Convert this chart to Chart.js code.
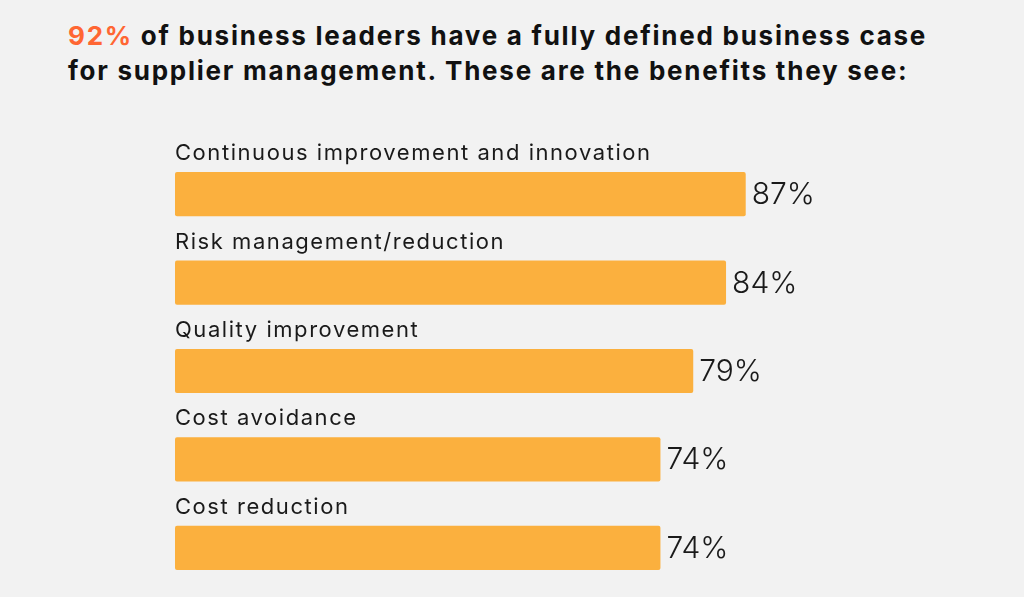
<!DOCTYPE html>
<html lang="en">
<head>
    <meta charset="UTF-8">
    <title>Supplier management benefits</title>
    <style>
        html, body {
            margin: 0;
            padding: 0;
            background: #f2f2f2;
            width: 1024px;
            height: 597px;
            overflow: hidden;
        }
        .title {
            position: absolute;
            left: 68px;
            top: 18px;
            font-family: 'Inter', sans-serif;
            font-weight: 700;
            font-size: 26px;
            line-height: 35px;
            letter-spacing: 1.75px;
            color: #111;
            white-space: nowrap;
        }
        .title .hl { color: #ff6633; }
        .wrap {
            position: absolute;
            left: 0;
            top: 0;
            width: 1024px;
            height: 597px;
        }
    </style>
</head>
<body>
<div class="title"><span class="hl">92%</span> of business leaders have a fully defined business case<br>for supplier management. These are the benefits they see:</div>
<div class="wrap"><canvas id="chart" width="1024" height="597"></canvas></div>

<script src="https://cdn.jsdelivr.net/npm/chart.js@4.4.0/dist/chart.umd.min.js"></script>
<script>
  const categories = [
    'Continuous improvement and innovation',
    'Risk management/reduction',
    'Quality improvement',
    'Cost avoidance',
    'Cost reduction'
  ];
  const values = [87, 84, 79, 74, 74];

  // category name above each bar, percentage to its right
  const barLabels = {
    id: 'barLabels',
    afterDatasetsDraw(chart) {
      const ctx = chart.ctx;
      const meta = chart.getDatasetMeta(0);
      ctx.save();
      meta.data.forEach((bar, i) => {
        const top = bar.y - bar.height / 2;
        ctx.fillStyle = '#1a1a1a';
        ctx.textBaseline = 'alphabetic';
        ctx.font = '400 22px Inter, sans-serif';
        ctx.letterSpacing = '1.55px';
        ctx.fillText(categories[i], bar.base, top - 12);
        ctx.textBaseline = 'middle';
        ctx.font = '300 30px Inter, sans-serif';
        ctx.letterSpacing = '0px';
        ctx.fillText(values[i] + '%', bar.x + 6, bar.y + 1);
      });
      ctx.restore();
    }
  };

  new Chart(document.getElementById('chart'), {
    type: 'bar',
    data: {
      labels: categories,
      datasets: [{
        data: values,
        backgroundColor: '#fbb03e',
        borderRadius: 2,
        borderSkipped: false,
        categoryPercentage: 1,
        barPercentage: 0.5
      }]
    },
    options: {
      indexAxis: 'y',
      responsive: false,
      animation: false,
      layout: { padding: { left: 175, right: 193, top: 150, bottom: 5 } },
      plugins: { legend: { display: false }, tooltip: { enabled: false } },
      scales: {
        x: { display: false, min: 0, max: 100 },
        y: { display: false }
      }
    },
    plugins: [barLabels]
  });
</script>
</body>
</html>
